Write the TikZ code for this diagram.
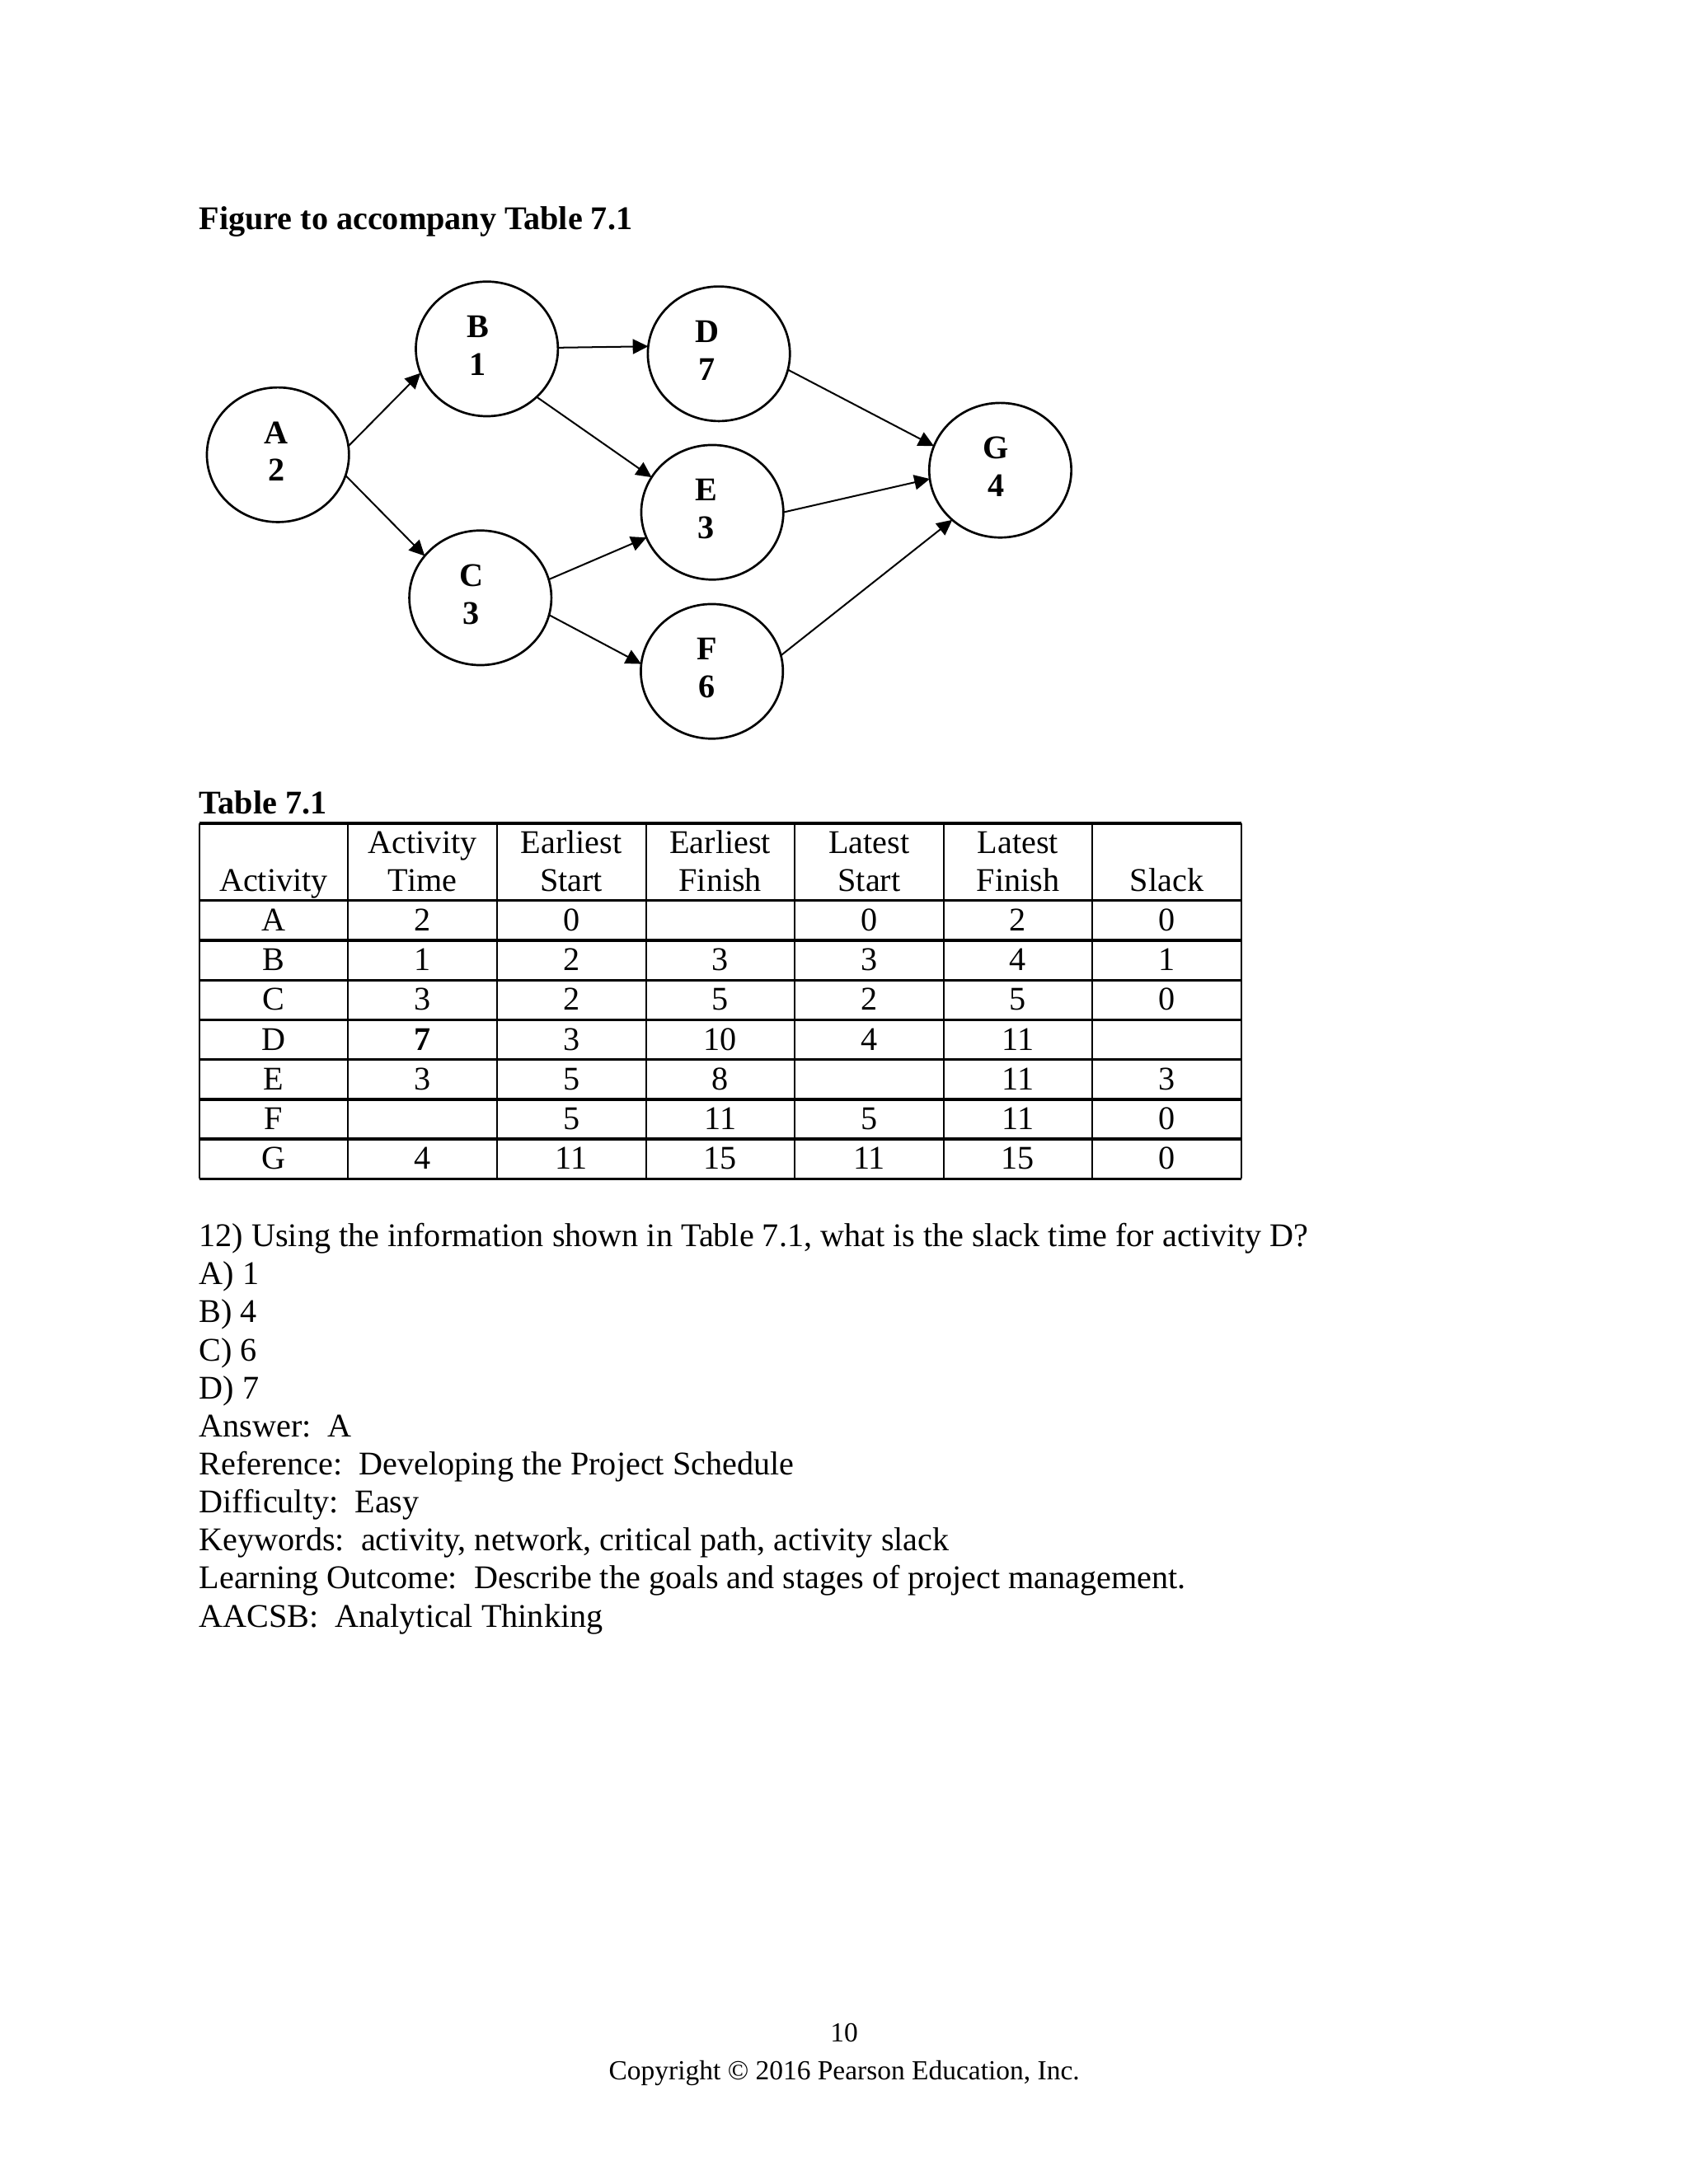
\documentclass[tikz,border=0pt]{standalone}
\usepackage{fontspec}
\setmainfont{Liberation Serif}
\usetikzlibrary{shapes.geometric,arrows.meta}
\frenchspacing
\newcommand\actlbl[3]{\raisebox{1.3pt}{\hspace*{#1}\begin{tabular}{@{}c@{}}#2\\#3\end{tabular}\hspace*{-#1}}}
\begin{document}
\begin{tikzpicture}[x=0.50495pt,y=-0.50495pt,
  every node/.style={inner sep=0pt,outer sep=0pt},
  txt/.style={anchor=base west,font=\fontsize{12}{13.8}\selectfont},
  ttl/.style={anchor=base west,font=\fontsize{12}{13.8}\selectfont\bfseries},
  cell/.style={anchor=base,font=\fontsize{12}{13.8}\selectfont},
  foot/.style={anchor=base,font=\fontsize{10}{12}\selectfont},
  act/.style={draw,ellipse,line width=0.8pt,minimum width=51.5pt,minimum height=48.8pt,font=\fontsize{12}{13.6}\selectfont\bfseries},
  arr/.style={-{Triangle[length=5.6pt,width=5.4pt]},line width=0.6pt},
  hline/.style={line width=1pt},
  vline/.style={line width=0.6pt}]
\useasboundingbox (0,0) rectangle (1212,1568);

% title
\node[ttl] (title) at (143,165) {Figure to accompany Table 7.1};

% network
\node[act] (A) at (199.5,326.5) {\actlbl{-0.5pt}{A}{2}};
\node[act] (B) at (349.5,250.5) {\actlbl{-3.2pt}{B}{1}};
\node[act] (C) at (344.8,429.2) {\actlbl{-3.3pt}{C}{3}};
\node[act] (D) at (516,254) {\actlbl{-4.3pt}{D}{7}};
\node[act] (E) at (511.3,367.8) {\actlbl{-2.3pt}{E}{3}};
\node[act] (F) at (511,482) {\actlbl{-1.9pt}{F}{6}};
\node[act] (G) at (718,337.6) {\actlbl{-1.5pt}{G}{4}};

\draw[arr] (A.7.7) -- (B.200);
\draw[arr] (A.-17) -- (C.143);
\draw[arr] (B.1.5) -- (D.174.7);
\draw[arr] (B.-44.3) -- (E.150.9);
\draw[arr] (C.15.7) -- (E.201);
\draw[arr] (C.-14.7) -- (F.174.6);
\draw[arr] (D.-13.4) -- (G.160.6);
\draw[arr] (E.0.3) -- (G.187.2);
\draw[arr] (F.13.1) -- (G.226.8);

% table
\node[ttl] (tabtitle) at (143,584.5) {Table 7.1};
\foreach \yy in {591.2,646.6,675.1,703.7,732.2,760.7,789.3,817.8,846.3}
  \draw[hline] (143,\yy) -- (891,\yy);
\foreach \xx in {143,249.9,356.7,463.6,570.4,677.3,784.1,891}
  \draw[vline] (\xx,591.2) -- (\xx,846.3);

\node[cell] (h0b) at (196.4,640.1) {Activity};
\node[cell] (h1a) at (303.3,612.9) {Activity};
\node[cell] (h1b) at (303.3,640.1) {Time};
\node[cell] (h2a) at (410.1,612.9) {Earliest};
\node[cell] (h2b) at (410.1,640.1) {Start};
\node[cell] (h3a) at (517,612.9) {Earliest};
\node[cell] (h3b) at (517,640.1) {Finish};
\node[cell] (h4a) at (623.9,612.9) {Latest};
\node[cell] (h4b) at (623.9,640.1) {Start};
\node[cell] (h5a) at (730.7,612.9) {Latest};
\node[cell] (h5b) at (730.7,640.1) {Finish};
\node[cell] (h6b) at (837.6,640.1) {Slack};

\foreach \nm/\va/\vb/\vc/\vd/\ve/\vf [count=\k from 0] in {
  A/2/0/{}/0/2/0,
  B/1/2/3/3/4/1,
  C/3/2/5/2/5/0,
  D/{\textbf{7}}/3/10/4/11/{},
  E/3/5/8/{}/11/3,
  F/{}/5/11/5/11/0,
  G/4/11/15/11/15/0}{
  \node[cell] (t\nm0) at (196.4,{668.3+28.53*\k}) {\nm};
  \node[cell] (t\nm1) at (303.3,{668.3+28.53*\k}) {\va};
  \node[cell] (t\nm2) at (410.1,{668.3+28.53*\k}) {\vb};
  \node[cell] (t\nm3) at (517,{668.3+28.53*\k}) {\vc};
  \node[cell] (t\nm4) at (623.9,{668.3+28.53*\k}) {\vd};
  \node[cell] (t\nm5) at (730.7,{668.3+28.53*\k}) {\ve};
  \node[cell] (t\nm6) at (837.6,{668.3+28.53*\k}) {\vf};
}

% question
\node[txt] (q0) at (143,895) {12) Using the information shown in Table 7.1, what is the slack time for activity D?};
\node[txt] (q1) at (143,922.3) {A) 1};
\node[txt] (q2) at (143,949.6) {B) 4};
\node[txt] (q3) at (143,976.9) {C) 6};
\node[txt] (q4) at (143,1004.2) {D) 7};
\node[txt] (q5) at (143,1031.5) {Answer:\ \ A};
\node[txt] (q6) at (143,1058.8) {Reference:\ \ Developing the Project Schedule};
\node[txt] (q7) at (143,1086.1) {Difficulty:\ \ Easy};
\node[txt] (q8) at (143,1113.4) {Keywords:\ \ activity, network, critical path, activity slack};
\node[txt] (q9) at (143,1140.7) {Learning Outcome:\ \ Describe the goals and stages of project management.};
\node[txt] (q10) at (143,1168) {AACSB:\ \ Analytical Thinking};

% footer
\node[foot] (pg) at (606,1466) {10};
\node[foot] (copy) at (606,1493) {Copyright © 2016 Pearson Education, Inc.};
\end{tikzpicture}
\end{document}
